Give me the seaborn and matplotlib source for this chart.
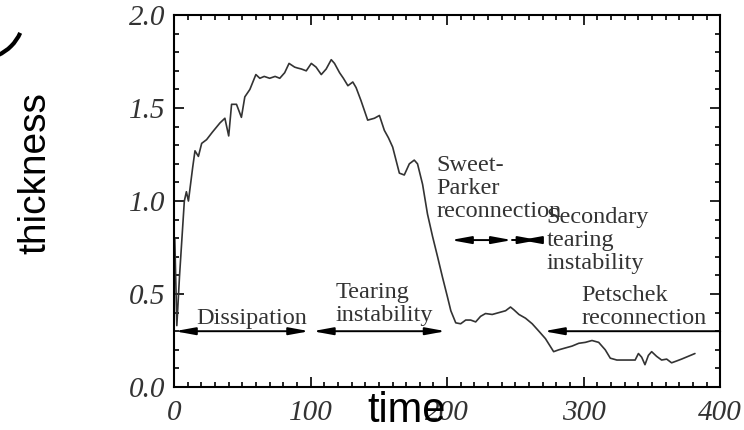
import numpy as np
import pandas as pd
import seaborn as sns
import matplotlib.pyplot as plt
from matplotlib.patches import Arc
from matplotlib.ticker import MultipleLocator

# values
time = [0.5, 2, 4, 7.5, 9, 10.5, 13.6, 15.3, 17.8, 20.2, 23.8, 28, 33.6, 37.2, 40.0,
        42.1, 45.7, 49.3, 51.8, 55.5, 59.9, 62.8, 66, 70, 74, 77.4, 81, 84.2, 88.3,
        90.5, 93.2, 96.8, 100.5, 104, 107.8, 111.4, 115.1, 117.5, 121.2, 124, 127.3,
        130.9, 133.3, 136.9, 141.8, 146.7, 150.4, 154, 157, 160.1, 165, 168.6, 172.3,
        175.9, 178.3, 182, 185.6, 189.3, 193, 196.6, 200.2, 202.7, 206.3, 209.9, 213.6,
        217.2, 220.9, 224.5, 228.1, 233, 237.9, 242.8, 246.4, 248.9, 252.6, 257.4,
        262.3, 267.2, 272, 278, 281.8, 286.6, 291.5, 296.4, 301.2, 306.1, 311, 315.8,
        319.5, 324.3, 330.4, 337.7, 340.1, 342.5, 344.9, 347.4, 349.8, 353.4, 357.1,
        360.8, 364.4, 368.1, 371.7, 376.6, 381.5]
thickness = [0.8, 0.33, 0.6, 1.0, 1.05, 1.0, 1.18, 1.27, 1.24, 1.31, 1.33, 1.37, 1.42,
             1.445, 1.35, 1.52, 1.52, 1.45, 1.56, 1.60, 1.68, 1.66, 1.67, 1.66, 1.67,
             1.66, 1.69, 1.74, 1.72, 1.715, 1.71, 1.70, 1.74, 1.72, 1.68, 1.71, 1.76,
             1.74, 1.69, 1.66, 1.62, 1.64, 1.61, 1.54, 1.435, 1.445, 1.46, 1.38, 1.34,
             1.29, 1.15, 1.14, 1.20, 1.22, 1.20, 1.09, 0.93, 0.81, 0.70, 0.59, 0.485,
             0.41, 0.345, 0.34, 0.36, 0.36, 0.35, 0.38, 0.395, 0.39, 0.40, 0.41, 0.43,
             0.415, 0.39, 0.37, 0.34, 0.30, 0.26, 0.19, 0.20, 0.21, 0.22, 0.235, 0.24,
             0.25, 0.24, 0.20, 0.155, 0.145, 0.145, 0.145, 0.18, 0.16, 0.12, 0.17, 0.19,
             0.165, 0.145, 0.15, 0.13, 0.14, 0.15, 0.165, 0.18]

# phase arrows: (start, end, height, style)
phase_arrows = [(0.5, 99, 0.30, '<|-|>'),
                (101.5, 199, 0.30, '<|-|>'),
                (202.7, 247.5, 0.79, '<|-|>'),
                (247.5, 255, 0.79, '-'),
                (254, 267, 0.79, '<|-|>'),
                (270.8, 400, 0.30, '<|-')]
phase_labels = [('Dissipation', 16.5, 0.425),
                ('Tearing\ninstability', 118.5, 0.566),
                ('Sweet-\nParker\nreconnection', 192, 1.25),
                ('Secondary\ntearing\ninstability', 273, 0.97),
                ('Petschek\nreconnection', 298.5, 0.55)]

df = pd.DataFrame({'time': time, 'thickness': thickness})

sns.set_style('ticks')
plt.rcParams['font.family'] = ['Liberation Serif', 'DejaVu Serif']

fig = plt.figure(figsize=(7.44, 4.30), dpi=100)
ax = fig.add_axes([0.234, 0.100, 0.734, 0.865])

sns.lineplot(data=df, x='time', y='thickness', color='#333333', lw=1.2, ax=ax, sort=False)

for x0, x1, yy, style in phase_arrows:
    if style == '-':
        ax.plot([x0, x1], [yy, yy], color='black', lw=1.4)
        continue
    ax.annotate('', xy=(x1, yy), xytext=(x0, yy),
                arrowprops=dict(arrowstyle=style + ',head_length=0.6,head_width=0.11',
                                mutation_scale=20, lw=1.4, color='black',
                                shrinkA=0, shrinkB=0))

for txt, tx, ty in phase_labels:
    ax.text(tx, ty, txt, fontsize=17.5, color='#333333', ha='left', va='top',
            linespacing=1.15, family='Liberation Serif')

ax.set_xlim(0, 400)
ax.set_ylim(0, 2.0)
ax.xaxis.set_major_locator(MultipleLocator(100))
ax.xaxis.set_minor_locator(MultipleLocator(10))
ax.yaxis.set_major_locator(MultipleLocator(0.5))
ax.yaxis.set_minor_locator(MultipleLocator(0.1))
ax.set_yticks([0, 0.5, 1.0, 1.5, 2.0])
ax.set_yticklabels(['0.0', '0.5', '1.0', '1.5', '2.0'])
ax.tick_params(which='both', direction='in', top=True, right=True, width=1.2,
               colors='black', labelcolor='#333333')
ax.tick_params(which='major', length=7, labelsize=21)
ax.tick_params(which='minor', length=3.6)
ax.tick_params(axis='x', pad=9)
ax.tick_params(axis='y', pad=6)
for lab in ax.get_xticklabels() + ax.get_yticklabels():
    lab.set_fontstyle('italic')
    lab.set_family('Liberation Serif')
for sp in ax.spines.values():
    sp.set_linewidth(1.5)
    sp.set_color('black')
ax.set_xlabel('')
ax.set_ylabel('')

# axis titles pasted over the figure in a sans font
fig.text(0.547, 0.0186, 'time', fontsize=30, family='Liberation Sans',
         ha='center', va='baseline', color='black')
fig.text(0.048, 0.597, 'thickness', fontsize=28, family='Liberation Sans',
         rotation=90, ha='center', va='center', color='black')

# stray arc in the top-left corner
fig.add_artist(Arc((-20, 415), 88, 88, theta1=-66, theta2=-24,
                   transform=None, lw=3.0, color='black'))

fig.savefig('out.png', dpi=100)
